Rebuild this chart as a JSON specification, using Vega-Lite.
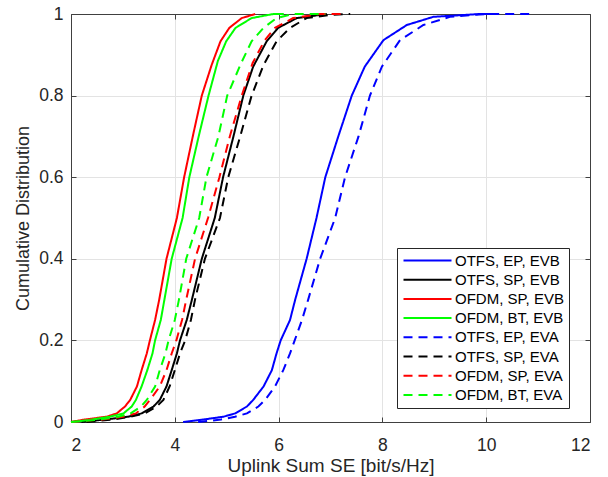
{
  "$schema": "https://vega.github.io/schema/vega-lite/v6.json",
  "width": 519,
  "height": 408,
  "autosize": "none",
  "padding": {"left": 71, "top": 14, "right": 18, "bottom": 55},
  "background": "white",
  "config": {"font": "Liberation Sans", "view": {"stroke": null}},
  "datasets": {
    "curves": [
      {"s": "OTFS, EP, EVB", "x": 4.16, "y": 0}, {"s": "OTFS, EP, EVB", "x": 4.49, "y": 0.005}, {"s": "OTFS, EP, EVB", "x": 4.94, "y": 0.013}, {"s": "OTFS, EP, EVB", "x": 5.16, "y": 0.021}, {"s": "OTFS, EP, EVB", "x": 5.39, "y": 0.038}, {"s": "OTFS, EP, EVB", "x": 5.51, "y": 0.054}, {"s": "OTFS, EP, EVB", "x": 5.71, "y": 0.087}, {"s": "OTFS, EP, EVB", "x": 5.87, "y": 0.127}, {"s": "OTFS, EP, EVB", "x": 5.96, "y": 0.168}, {"s": "OTFS, EP, EVB", "x": 6.04, "y": 0.2}, {"s": "OTFS, EP, EVB", "x": 6.22, "y": 0.25}, {"s": "OTFS, EP, EVB", "x": 6.32, "y": 0.3}, {"s": "OTFS, EP, EVB", "x": 6.54, "y": 0.4}, {"s": "OTFS, EP, EVB", "x": 6.73, "y": 0.5}, {"s": "OTFS, EP, EVB", "x": 6.9, "y": 0.6}, {"s": "OTFS, EP, EVB", "x": 7.15, "y": 0.7}, {"s": "OTFS, EP, EVB", "x": 7.41, "y": 0.8}, {"s": "OTFS, EP, EVB", "x": 7.66, "y": 0.871}, {"s": "OTFS, EP, EVB", "x": 8.02, "y": 0.936}, {"s": "OTFS, EP, EVB", "x": 8.47, "y": 0.973}, {"s": "OTFS, EP, EVB", "x": 8.98, "y": 0.993}, {"s": "OTFS, EP, EVB", "x": 9.88, "y": 1.0}, {"s": "OTFS, EP, EVB", "x": 10.2, "y": 1.0},

      {"s": "OTFS, SP, EVB", "x": 2.2, "y": 0}, {"s": "OTFS, SP, EVB", "x": 2.65, "y": 0.006}, {"s": "OTFS, SP, EVB", "x": 3.1, "y": 0.013}, {"s": "OTFS, SP, EVB", "x": 3.36, "y": 0.021}, {"s": "OTFS, SP, EVB", "x": 3.59, "y": 0.038}, {"s": "OTFS, SP, EVB", "x": 3.71, "y": 0.054}, {"s": "OTFS, SP, EVB", "x": 3.84, "y": 0.087}, {"s": "OTFS, SP, EVB", "x": 3.94, "y": 0.127}, {"s": "OTFS, SP, EVB", "x": 4.04, "y": 0.168}, {"s": "OTFS, SP, EVB", "x": 4.1, "y": 0.2}, {"s": "OTFS, SP, EVB", "x": 4.23, "y": 0.25}, {"s": "OTFS, SP, EVB", "x": 4.33, "y": 0.3}, {"s": "OTFS, SP, EVB", "x": 4.52, "y": 0.4}, {"s": "OTFS, SP, EVB", "x": 4.77, "y": 0.5}, {"s": "OTFS, SP, EVB", "x": 4.93, "y": 0.6}, {"s": "OTFS, SP, EVB", "x": 5.13, "y": 0.7}, {"s": "OTFS, SP, EVB", "x": 5.32, "y": 0.8}, {"s": "OTFS, SP, EVB", "x": 5.51, "y": 0.871}, {"s": "OTFS, SP, EVB", "x": 5.77, "y": 0.933}, {"s": "OTFS, SP, EVB", "x": 5.99, "y": 0.966}, {"s": "OTFS, SP, EVB", "x": 6.35, "y": 0.99}, {"s": "OTFS, SP, EVB", "x": 6.93, "y": 1.0},

      {"s": "OFDM, SP, EVB", "x": 2.0, "y": 0}, {"s": "OFDM, SP, EVB", "x": 2.26, "y": 0.006}, {"s": "OFDM, SP, EVB", "x": 2.69, "y": 0.013}, {"s": "OFDM, SP, EVB", "x": 2.88, "y": 0.021}, {"s": "OFDM, SP, EVB", "x": 3.04, "y": 0.038}, {"s": "OFDM, SP, EVB", "x": 3.14, "y": 0.054}, {"s": "OFDM, SP, EVB", "x": 3.27, "y": 0.087}, {"s": "OFDM, SP, EVB", "x": 3.36, "y": 0.127}, {"s": "OFDM, SP, EVB", "x": 3.46, "y": 0.168}, {"s": "OFDM, SP, EVB", "x": 3.52, "y": 0.2}, {"s": "OFDM, SP, EVB", "x": 3.62, "y": 0.25}, {"s": "OFDM, SP, EVB", "x": 3.7, "y": 0.3}, {"s": "OFDM, SP, EVB", "x": 3.84, "y": 0.4}, {"s": "OFDM, SP, EVB", "x": 4.04, "y": 0.5}, {"s": "OFDM, SP, EVB", "x": 4.18, "y": 0.6}, {"s": "OFDM, SP, EVB", "x": 4.36, "y": 0.708}, {"s": "OFDM, SP, EVB", "x": 4.52, "y": 0.8}, {"s": "OFDM, SP, EVB", "x": 4.71, "y": 0.875}, {"s": "OFDM, SP, EVB", "x": 4.88, "y": 0.933}, {"s": "OFDM, SP, EVB", "x": 5.05, "y": 0.966}, {"s": "OFDM, SP, EVB", "x": 5.29, "y": 0.99}, {"s": "OFDM, SP, EVB", "x": 5.55, "y": 1.0},

      {"s": "OFDM, BT, EVB", "x": 2.0, "y": 0}, {"s": "OFDM, BT, EVB", "x": 2.35, "y": 0.005}, {"s": "OFDM, BT, EVB", "x": 2.75, "y": 0.013}, {"s": "OFDM, BT, EVB", "x": 3.01, "y": 0.021}, {"s": "OFDM, BT, EVB", "x": 3.17, "y": 0.038}, {"s": "OFDM, BT, EVB", "x": 3.25, "y": 0.054}, {"s": "OFDM, BT, EVB", "x": 3.36, "y": 0.087}, {"s": "OFDM, BT, EVB", "x": 3.47, "y": 0.127}, {"s": "OFDM, BT, EVB", "x": 3.57, "y": 0.168}, {"s": "OFDM, BT, EVB", "x": 3.62, "y": 0.2}, {"s": "OFDM, BT, EVB", "x": 3.73, "y": 0.25}, {"s": "OFDM, BT, EVB", "x": 3.8, "y": 0.3}, {"s": "OFDM, BT, EVB", "x": 3.94, "y": 0.4}, {"s": "OFDM, BT, EVB", "x": 4.15, "y": 0.5}, {"s": "OFDM, BT, EVB", "x": 4.28, "y": 0.6}, {"s": "OFDM, BT, EVB", "x": 4.46, "y": 0.7}, {"s": "OFDM, BT, EVB", "x": 4.65, "y": 0.8}, {"s": "OFDM, BT, EVB", "x": 4.83, "y": 0.885}, {"s": "OFDM, BT, EVB", "x": 4.99, "y": 0.933}, {"s": "OFDM, BT, EVB", "x": 5.17, "y": 0.966}, {"s": "OFDM, BT, EVB", "x": 5.48, "y": 0.99}, {"s": "OFDM, BT, EVB", "x": 5.9, "y": 1.0}, {"s": "OFDM, BT, EVB", "x": 6.1, "y": 1.0},

      {"s": "OTFS, EP, EVA", "x": 4.45, "y": 0}, {"s": "OTFS, EP, EVA", "x": 4.89, "y": 0.006}, {"s": "OTFS, EP, EVA", "x": 5.16, "y": 0.013}, {"s": "OTFS, EP, EVA", "x": 5.39, "y": 0.021}, {"s": "OTFS, EP, EVA", "x": 5.61, "y": 0.038}, {"s": "OTFS, EP, EVA", "x": 5.74, "y": 0.054}, {"s": "OTFS, EP, EVA", "x": 5.93, "y": 0.087}, {"s": "OTFS, EP, EVA", "x": 6.09, "y": 0.127}, {"s": "OTFS, EP, EVA", "x": 6.22, "y": 0.168}, {"s": "OTFS, EP, EVA", "x": 6.31, "y": 0.2}, {"s": "OTFS, EP, EVA", "x": 6.45, "y": 0.25}, {"s": "OTFS, EP, EVA", "x": 6.57, "y": 0.3}, {"s": "OTFS, EP, EVA", "x": 6.8, "y": 0.4}, {"s": "OTFS, EP, EVA", "x": 7.09, "y": 0.5}, {"s": "OTFS, EP, EVA", "x": 7.28, "y": 0.6}, {"s": "OTFS, EP, EVA", "x": 7.54, "y": 0.7}, {"s": "OTFS, EP, EVA", "x": 7.76, "y": 0.8}, {"s": "OTFS, EP, EVA", "x": 7.99, "y": 0.871}, {"s": "OTFS, EP, EVA", "x": 8.34, "y": 0.936}, {"s": "OTFS, EP, EVA", "x": 8.79, "y": 0.973}, {"s": "OTFS, EP, EVA", "x": 9.3, "y": 0.993}, {"s": "OTFS, EP, EVA", "x": 10.0, "y": 1.0}, {"s": "OTFS, EP, EVA", "x": 10.84, "y": 1.0},

      {"s": "OTFS, SP, EVA", "x": 2.3, "y": 0}, {"s": "OTFS, SP, EVA", "x": 2.8, "y": 0.006}, {"s": "OTFS, SP, EVA", "x": 3.15, "y": 0.013}, {"s": "OTFS, SP, EVA", "x": 3.42, "y": 0.021}, {"s": "OTFS, SP, EVA", "x": 3.65, "y": 0.038}, {"s": "OTFS, SP, EVA", "x": 3.78, "y": 0.054}, {"s": "OTFS, SP, EVA", "x": 3.9, "y": 0.087}, {"s": "OTFS, SP, EVA", "x": 4.0, "y": 0.127}, {"s": "OTFS, SP, EVA", "x": 4.1, "y": 0.168}, {"s": "OTFS, SP, EVA", "x": 4.2, "y": 0.2}, {"s": "OTFS, SP, EVA", "x": 4.31, "y": 0.25}, {"s": "OTFS, SP, EVA", "x": 4.39, "y": 0.3}, {"s": "OTFS, SP, EVA", "x": 4.58, "y": 0.4}, {"s": "OTFS, SP, EVA", "x": 4.87, "y": 0.5}, {"s": "OTFS, SP, EVA", "x": 5.03, "y": 0.6}, {"s": "OTFS, SP, EVA", "x": 5.26, "y": 0.7}, {"s": "OTFS, SP, EVA", "x": 5.48, "y": 0.8}, {"s": "OTFS, SP, EVA", "x": 5.71, "y": 0.875}, {"s": "OTFS, SP, EVA", "x": 5.96, "y": 0.933}, {"s": "OTFS, SP, EVA", "x": 6.22, "y": 0.966}, {"s": "OTFS, SP, EVA", "x": 6.54, "y": 0.99}, {"s": "OTFS, SP, EVA", "x": 7.0, "y": 0.998}, {"s": "OTFS, SP, EVA", "x": 7.38, "y": 1.0},

      {"s": "OFDM, SP, EVA", "x": 2.0, "y": 0}, {"s": "OFDM, SP, EVA", "x": 2.6, "y": 0.006}, {"s": "OFDM, SP, EVA", "x": 3.0, "y": 0.013}, {"s": "OFDM, SP, EVA", "x": 3.25, "y": 0.021}, {"s": "OFDM, SP, EVA", "x": 3.42, "y": 0.038}, {"s": "OFDM, SP, EVA", "x": 3.52, "y": 0.054}, {"s": "OFDM, SP, EVA", "x": 3.71, "y": 0.087}, {"s": "OFDM, SP, EVA", "x": 3.84, "y": 0.127}, {"s": "OFDM, SP, EVA", "x": 3.94, "y": 0.168}, {"s": "OFDM, SP, EVA", "x": 4.03, "y": 0.2}, {"s": "OFDM, SP, EVA", "x": 4.14, "y": 0.25}, {"s": "OFDM, SP, EVA", "x": 4.22, "y": 0.3}, {"s": "OFDM, SP, EVA", "x": 4.39, "y": 0.4}, {"s": "OFDM, SP, EVA", "x": 4.64, "y": 0.5}, {"s": "OFDM, SP, EVA", "x": 4.86, "y": 0.6}, {"s": "OFDM, SP, EVA", "x": 5.06, "y": 0.7}, {"s": "OFDM, SP, EVA", "x": 5.29, "y": 0.8}, {"s": "OFDM, SP, EVA", "x": 5.5, "y": 0.88}, {"s": "OFDM, SP, EVA", "x": 5.73, "y": 0.935}, {"s": "OFDM, SP, EVA", "x": 5.93, "y": 0.966}, {"s": "OFDM, SP, EVA", "x": 6.28, "y": 0.99}, {"s": "OFDM, SP, EVA", "x": 6.8, "y": 1.0}, {"s": "OFDM, SP, EVA", "x": 7.31, "y": 1.0},

      {"s": "OFDM, BT, EVA", "x": 2.0, "y": 0}, {"s": "OFDM, BT, EVA", "x": 2.5, "y": 0.005}, {"s": "OFDM, BT, EVA", "x": 2.91, "y": 0.013}, {"s": "OFDM, BT, EVA", "x": 3.15, "y": 0.021}, {"s": "OFDM, BT, EVA", "x": 3.35, "y": 0.038}, {"s": "OFDM, BT, EVA", "x": 3.46, "y": 0.054}, {"s": "OFDM, BT, EVA", "x": 3.62, "y": 0.087}, {"s": "OFDM, BT, EVA", "x": 3.71, "y": 0.127}, {"s": "OFDM, BT, EVA", "x": 3.82, "y": 0.168}, {"s": "OFDM, BT, EVA", "x": 3.88, "y": 0.2}, {"s": "OFDM, BT, EVA", "x": 4.0, "y": 0.25}, {"s": "OFDM, BT, EVA", "x": 4.08, "y": 0.3}, {"s": "OFDM, BT, EVA", "x": 4.22, "y": 0.4}, {"s": "OFDM, BT, EVA", "x": 4.47, "y": 0.5}, {"s": "OFDM, BT, EVA", "x": 4.61, "y": 0.6}, {"s": "OFDM, BT, EVA", "x": 4.84, "y": 0.7}, {"s": "OFDM, BT, EVA", "x": 5.01, "y": 0.8}, {"s": "OFDM, BT, EVA", "x": 5.28, "y": 0.88}, {"s": "OFDM, BT, EVA", "x": 5.48, "y": 0.933}, {"s": "OFDM, BT, EVA", "x": 5.71, "y": 0.966}, {"s": "OFDM, BT, EVA", "x": 5.96, "y": 0.99}, {"s": "OFDM, BT, EVA", "x": 6.28, "y": 1.0}, {"s": "OFDM, BT, EVA", "x": 6.9, "y": 1.0}
    ]
  },
  "data": {"name": "curves"},
  "layer": [
    {
      "mark": {"type": "line", "strokeWidth": 2},
      "encoding": {
        "x": {
          "field": "x", "type": "quantitative",
          "scale": {"domain": [2, 12], "nice": false, "zero": false},
          "axis": {
            "orient": "bottom", "values": [2, 4, 6, 8, 10, 12],
            "grid": true, "gridColor": "#e3e3e3", "gridWidth": 1,
            "domainColor": "#404040", "tickColor": "#404040", "tickSize": -5,
            "labelFontSize": 17.5, "labelColor": "#262626", "labelPadding": 19,
            "title": "Uplink Sum SE [bit/s/Hz]", "titleFontSize": 19, "titleFontWeight": "normal",
            "titleColor": "#262626", "titlePadding": 2.5
          }
        },
        "y": {
          "field": "y", "type": "quantitative",
          "scale": {"domain": [0, 1], "nice": false},
          "axis": {
            "orient": "left", "values": [0, 0.2, 0.4, 0.6, 0.8, 1], "format": "~g",
            "grid": true, "gridColor": "#e3e3e3", "gridWidth": 1,
            "domainColor": "#404040", "tickColor": "#404040", "tickSize": -5,
            "labelFontSize": 17.5, "labelColor": "#262626", "labelPadding": 13,
            "title": "Cumulative Distribution", "titleFontSize": 18, "titleFontWeight": "normal",
            "titleColor": "#262626", "titlePadding": 6
          }
        },
        "color": {
          "field": "s", "type": "nominal",
          "scale": {
            "domain": ["OTFS, EP, EVB", "OTFS, SP, EVB", "OFDM, SP, EVB", "OFDM, BT, EVB", "OTFS, EP, EVA", "OTFS, SP, EVA", "OFDM, SP, EVA", "OFDM, BT, EVA"],
            "range": ["#0000ff", "#000000", "#ff0000", "#00ff00", "#0000ff", "#000000", "#ff0000", "#00ff00"]
          },
          "legend": {
            "title": null, "orient": "none", "legendX": 326, "legendY": 234,
            "strokeColor": "#262626", "fillColor": "white", "padding": 5,
            "labelFontSize": 15, "labelColor": "#000000", "labelLimit": 300,
            "symbolType": "M-4,0L4,0", "symbolSize": 144, "symbolStrokeWidth": 2,
            "symbolOffset": 18, "labelOffset": 20, "rowPadding": 3.2
          }
        },
        "strokeDash": {
          "field": "s", "type": "nominal",
          "scale": {
            "domain": ["OTFS, EP, EVB", "OTFS, SP, EVB", "OFDM, SP, EVB", "OFDM, BT, EVB", "OTFS, EP, EVA", "OTFS, SP, EVA", "OFDM, SP, EVA", "OFDM, BT, EVA"],
            "range": [[1, 0], [1, 0], [1, 0], [1, 0], [9, 6], [9, 6], [9, 6], [9, 6]]
          },
          "legend": {
            "title": null, "orient": "none", "legendX": 326, "legendY": 234,
            "strokeColor": "#262626", "fillColor": "white", "padding": 5,
            "labelFontSize": 15, "labelColor": "#000000", "labelLimit": 300,
            "symbolType": "M-4,0L4,0", "symbolSize": 144, "symbolStrokeWidth": 2,
            "symbolOffset": 18, "labelOffset": 20, "rowPadding": 3.2
          }
        }
      }
    },
    {
      "mark": {"type": "line", "opacity": 0},
      "encoding": {
        "x": {
          "field": "x", "type": "quantitative",
          "axis": {"orient": "top", "values": [2, 4, 6, 8, 10, 12], "labels": false, "grid": false, "title": null,
                   "domainColor": "#404040", "tickColor": "#404040", "tickSize": -5}
        },
        "y": {
          "field": "y", "type": "quantitative",
          "axis": {"orient": "right", "values": [0, 0.2, 0.4, 0.6, 0.8, 1], "labels": false, "grid": false, "title": null,
                   "domainColor": "#404040", "tickColor": "#404040", "tickSize": -5}
        },
        "detail": {"field": "s"}
      }
    }
  ],
  "resolve": {"axis": {"x": "independent", "y": "independent"}}
}
